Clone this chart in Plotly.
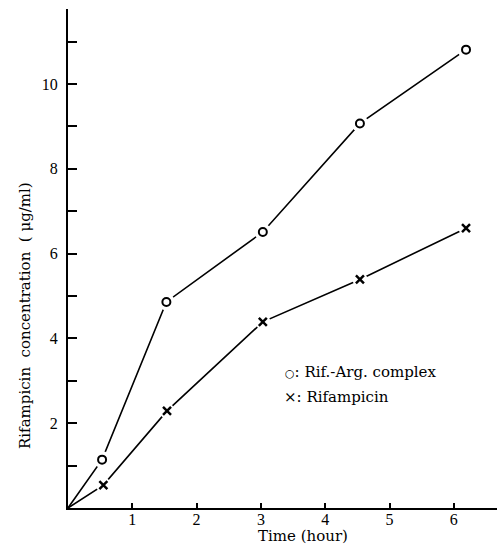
import plotly.graph_objects as go

# Data
time_complex = [0, 0.53, 1.53, 3.03, 4.54, 6.19]
conc_complex = [0, 1.14, 4.86, 6.51, 9.07, 10.81]
time_rif = [0, 0.55, 1.54, 3.03, 4.54, 6.19]
conc_rif = [0, 0.54, 2.29, 4.39, 5.39, 6.60]

x_tick_vals = [1, 2, 3, 4, 5, 6]
x_tick_text = ["1", "2", "3", "4", "5", "6"]
y_tick_vals = [1, 2, 3, 4, 5, 6, 7, 8, 9, 10, 11]
y_tick_text = ["", "2", "", "4", "", "6", "", "8", "", "10", ""]

FONT = "Liberation Serif"
TFONT = "DejaVu Serif"
W, H = 501, 545
ML, MR, MT, MB = 68, 4, 9, 37

fig = go.Figure()

# connecting lines
fig.add_trace(go.Scatter(x=time_complex, y=conc_complex, mode="lines",
                         line=dict(color="black", width=1.6), hoverinfo="skip"))
fig.add_trace(go.Scatter(x=time_rif, y=conc_rif, mode="lines",
                         line=dict(color="black", width=1.6), hoverinfo="skip"))
# white halos (gaps around markers)
fig.add_trace(go.Scatter(x=time_complex[1:], y=conc_complex[1:], mode="markers",
                         marker=dict(symbol="circle", size=17, color="white"), hoverinfo="skip"))
fig.add_trace(go.Scatter(x=time_rif[1:], y=conc_rif[1:], mode="markers",
                         marker=dict(symbol="circle", size=15, color="white"), hoverinfo="skip"))
# markers
fig.add_trace(go.Scatter(x=time_complex[1:], y=conc_complex[1:], mode="markers",
                         name="Rif.-Arg. complex",
                         marker=dict(symbol="circle-open", size=8, color="black",
                                     line=dict(width=2, color="black"))))
fig.add_trace(go.Scatter(x=time_rif[1:], y=conc_rif[1:], mode="markers",
                         name="Rifampicin",
                         marker=dict(symbol="x-thin-open", size=8, color="black",
                                     line=dict(width=2.5, color="black"))))

plot_w = W - ML - MR
plot_h = H - MT - MB
px_per_x = 64.3
px_per_y = 42.4

fig.update_layout(
    width=W, height=H,
    margin=dict(l=ML, r=MR, t=MT, b=MB, pad=0),
    paper_bgcolor="white", plot_bgcolor="white",
    showlegend=False,
    font=dict(family=FONT, size=14, color="black"),
    xaxis=dict(range=[0, plot_w / px_per_x], showgrid=False, zeroline=False,
               showline=True, linecolor="black", linewidth=1.5,
               ticks="inside", ticklen=5, tickwidth=1.5, tickcolor="black",
               tickvals=x_tick_vals, ticktext=x_tick_text,
               tickfont=dict(family=FONT, size=16), ticklabelstandoff=-4),
    yaxis=dict(range=[0, plot_h / px_per_y], showgrid=False, zeroline=False,
               showline=True, linecolor="black", linewidth=2,
               ticks="inside", ticklen=9, tickwidth=1.8, tickcolor="black",
               tickvals=y_tick_vals, ticktext=y_tick_text,
               tickfont=dict(family=FONT, size=16), ticklabelstandoff=5),
)

def px_x(p):
    return (p - ML) / plot_w

def px_y(p):
    return (H - MB - p) / plot_h

fig.add_annotation(xref="paper", yref="paper", x=px_x(283), y=px_y(372),
                   xanchor="left", yanchor="middle", showarrow=False,
                   text="<span style='font-size:11px'>\u25cb</span>: Rif.-Arg. complex",
                   font=dict(family=TFONT, size=15))
fig.add_annotation(xref="paper", yref="paper", x=px_x(282), y=px_y(397),
                   xanchor="left", yanchor="middle", showarrow=False,
                   text="\u00d7: Rifampicin", font=dict(family=TFONT, size=15))
fig.add_annotation(xref="paper", yref="paper", x=px_x(303), y=px_y(536),
                   xanchor="center", yanchor="middle", showarrow=False,
                   text="Time (hour)", font=dict(family=TFONT, size=15))
fig.add_annotation(xref="paper", yref="paper", x=px_x(25), y=px_y(316),
                   xanchor="center", yanchor="middle", showarrow=False, textangle=-90,
                   text="Rifampicin\u00a0 concentration\u00a0 ( \u03bcg/ml)",
                   font=dict(family=TFONT, size=15))

fig.write_html("out.html")
